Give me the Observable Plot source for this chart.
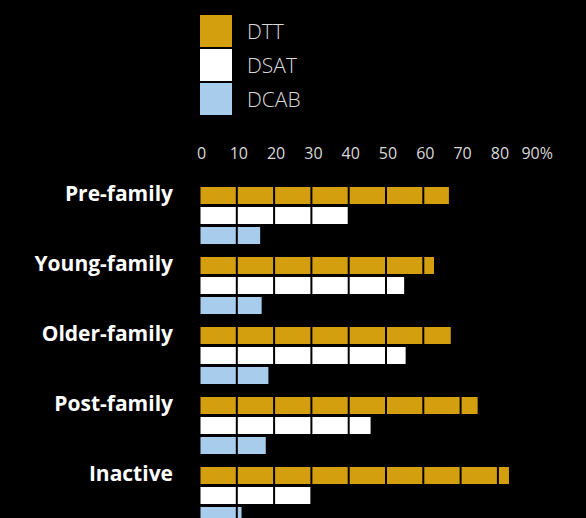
<!DOCTYPE html>
<html>
<head>
<meta charset="utf-8">
<script src="https://cdn.jsdelivr.net/npm/d3@7"></script>
<script src="https://cdn.jsdelivr.net/npm/@observablehq/plot@0.6"></script>
<style>
  html, body { margin: 0; padding: 0; background: #000; overflow: hidden; width: 586px; height: 518px; }
  #legend { box-sizing: border-box; height: 120px; padding-top: 15px; padding-left: 200px; }
  .row { display: flex; align-items: center; height: 32px; margin-bottom: 2px; }
  .sw { width: 32px; height: 32px; }
  .lab { margin-left: 15px; font-family: "Open Sans", sans-serif; font-weight: 300; font-size: 21px; color: #d8d8d8; line-height: 32px; }
  svg { display: block; }
</style>
</head>
<body>
<div id="legend"></div>
<div id="chart"></div>
<script>
const categories = ["Pre-family", "Young-family", "Older-family", "Post-family", "Inactive"];
const series = ["DTT", "DSAT", "DCAB"];
const colors = ["#d49f0e", "#ffffff", "#a8cdec"];
const dtt  = [67, 63, 67.5, 74.7, 83.1];
const dsat = [40, 55, 55.4, 46, 30];
const dcab = [16.4, 16.8, 18.6, 17.9, 11.4];
const ticks = [0, 10, 20, 30, 40, 50, 60, 70, 80, 90];

const values = {DTT: dtt, DSAT: dsat, DCAB: dcab};
const data = categories.flatMap((c, i) => series.map(s => ({cat: c, s, v: values[s][i]})));

// legend
const legend = document.getElementById("legend");
series.forEach((s, i) => {
  const row = document.createElement("div");
  row.className = "row";
  const sw = document.createElement("div");
  sw.className = "sw";
  sw.style.background = colors[i];
  const lab = document.createElement("span");
  lab.className = "lab";
  lab.textContent = s;
  row.appendChild(sw);
  row.appendChild(lab);
  legend.appendChild(row);
});

const chart = Plot.plot({
  width: 586,
  height: 405,
  marginTop: 66,
  marginLeft: 199,
  marginRight: 51.3,
  marginBottom: 0,
  style: {background: "#000", color: "#d8d8d8", fontFamily: "'Open Sans', sans-serif", overflow: "visible"},
  x: {domain: [0, 90], axis: null},
  y: {domain: series, paddingInner: 0.15, paddingOuter: 0, axis: null},
  fy: {domain: categories, paddingInner: 0.1915, paddingOuter: 0, axis: null},
  color: {domain: series, range: colors},
  marks: [
    Plot.barX(data, {x: "v", y: "s", fy: "cat", fill: "s"}),
    Plot.ruleX(ticks, {stroke: "#000", strokeWidth: 2}),
    Plot.axisX({
      anchor: "top", ticks, tickSize: 0, tickPadding: 29, dx: 2, label: null,
      tickFormat: d => d === 90 ? "90%" : String(d),
      fontSize: 16, fontWeight: 400, fill: "#d8d8d8"
    }),
    Plot.axisFy({
      anchor: "left", tickSize: 0, tickPadding: 26.5, dy: -21.4,
      fontSize: 21, fontWeight: "bold", fill: "#ffffff", label: null
    })
  ]
});
document.getElementById("chart").appendChild(chart);
</script>
</body>
</html>
